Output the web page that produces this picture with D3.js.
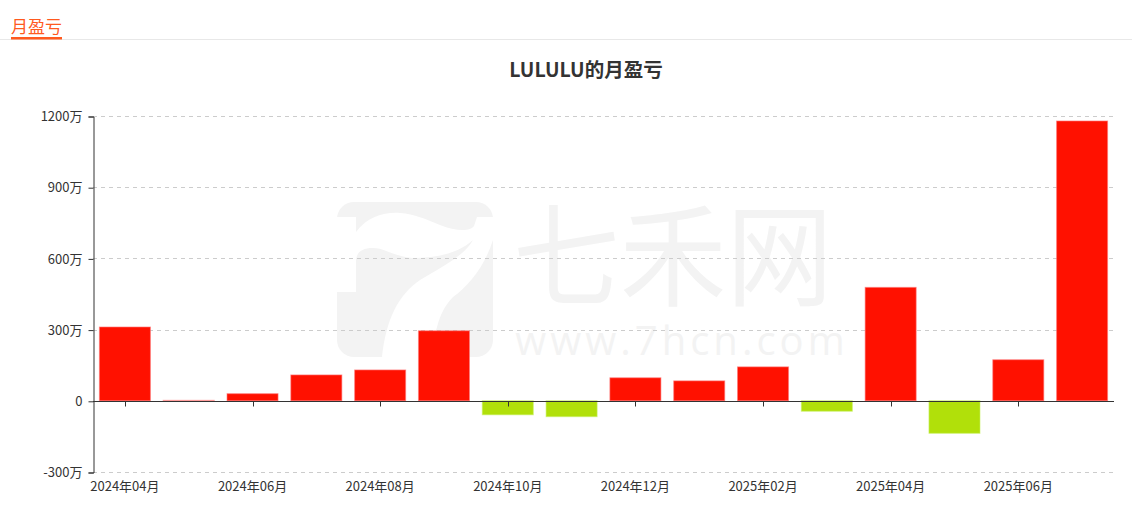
<!DOCTYPE html>
<html><head><meta charset="utf-8">
<script src="https://cdn.jsdelivr.net/npm/d3@7"></script>
<style>body{margin:0;background:#fff;}svg{display:block;font-family:"Noto Sans CJK SC","Noto Sans",sans-serif;}</style>
</head><body>
<svg id="c" width="1132" height="514"></svg>
<script>
const categories = ["2024年04月","2024年05月","2024年06月","2024年07月","2024年08月","2024年09月","2024年10月","2024年11月","2024年12月","2025年01月","2025年02月","2025年03月","2025年04月","2025年05月","2025年06月","2025年07月"];
const values = [311, 2, 30, 109, 130, 295, -59, -67, 97, 84, 143, -44, 478, -137, 173, 1179];
const yTicks = [-300, 0, 300, 600, 900, 1200];
const title = "LULULU的月盈亏";
const tabLabel = "月盈亏";

(function(){
const svg = d3.select("#c");
const pL = 93, pR = 1114, pT = 116, pB = 472;

// header
svg.append("line").attr("x1",0).attr("x2",1132).attr("y1",39.5).attr("y2",39.5).attr("stroke","#e8e8e8");
svg.append("text").attr("x",11).attr("y",33).attr("font-size",17).attr("fill","#ff5a1f").text(tabLabel);
svg.append("rect").attr("x",11).attr("y",37).attr("width",51).attr("height",2.5).attr("fill","#ff5a1f");

// watermark
const wm = svg.append("g");
const wc = "#f3f3f3";
wm.append("rect").attr("x",337).attr("y",202).attr("width",156).attr("height",155).attr("rx",17).attr("fill",wc);
wm.append("path").attr("fill","#fff").attr("d",
  "M337,217 L356,217 L356,232 C368,216 385,212 400,213 C415,214 425,219 440,225 C455,231 470,232 474,226 L477,217 L493,217 L493,240 " +
  "C485,265 470,285 453,297 C440,310 434,330 433,357 L382,357 C386,320 398,295 420,280 C445,265 465,255 473,240 " +
  "C460,252 440,258 413,258 C395,257 385,248 373,248 C362,248 356,252 356,262 L356,292 L337,292 Z");
wm.append("text").attr("x",673).attr("y",298).attr("text-anchor","middle").attr("font-size",112).attr("fill",wc)
  .attr("textLength",320).attr("lengthAdjust","spacingAndGlyphs").text("七禾网");
wm.append("text").attr("x",682).attr("y",355).attr("text-anchor","middle").attr("font-size",40).attr("fill",wc).attr("letter-spacing",4).attr("font-family","'Open Sans',sans-serif").text("www.7hcn.com");

svg.append("text").attr("x",586).attr("y",77).attr("text-anchor","middle").attr("font-size",19.5).attr("font-weight","bold").attr("fill","#333").text(title);

const x = d3.scaleBand().domain(categories).range([pL, pR]).paddingInner(0.2).paddingOuter(0.1);
const xc = d3.scaleBand().domain(categories).range([pL, pR]);
const y = d3.scaleLinear().domain([-300, 1200]).range([pB, pT]);

// grid
svg.append("g").selectAll("line").data(yTicks).join("line")
  .attr("x1",pL).attr("x2",pR).attr("y1",d=>Math.round(y(d))+0.5).attr("y2",d=>Math.round(y(d))+0.5)
  .attr("stroke","#ccc").attr("stroke-dasharray","4,4").attr("opacity",d=>d===0?0:1);

// y axis
const yAxis = d3.axisLeft(y).tickValues(yTicks).tickSize(5).tickPadding(6).tickFormat(d=>d===0?"0":d+"万");
const gy = svg.append("g").attr("transform",`translate(${pL+0.5},0.5)`).call(yAxis);
gy.select(".domain").attr("stroke","#333");
gy.selectAll(".tick line").attr("stroke","#333");
gy.selectAll("text").attr("font-size",13).attr("fill","#333").attr("font-family","'Noto Sans CJK SC',sans-serif");

// bars
svg.append("g").selectAll("rect").data(values).join("rect")
  .attr("x",(d,i)=>x(categories[i]))
  .attr("width",x.bandwidth())
  .attr("y",d=>y(Math.max(d,0)))
  .attr("height",d=>Math.max(Math.abs(y(d)-y(0)),0.8))
  .attr("fill",d=>d>=0?"#ff1100":"#b1e00a")
  .attr("fill-opacity",(d)=>Math.abs(d)<5?0.25:1)
  .attr("stroke",d=>d>=0?"rgba(255,120,120,0.6)":"rgba(200,240,100,0.6)")
  .attr("stroke-width",1);

// x axis line at zero
const zy = Math.round(y(0))+0.5;
svg.append("line").attr("x1",pL).attr("x2",pR).attr("y1",zy).attr("y2",zy).attr("stroke","#333");
const tickCats = categories.filter((d,i)=>i%2===0);
svg.append("g").selectAll("line").data(tickCats).join("line")
  .attr("x1",d=>Math.round(xc(d)+xc.bandwidth()/2)+0.5).attr("x2",d=>Math.round(xc(d)+xc.bandwidth()/2)+0.5)
  .attr("y1",zy).attr("y2",zy+5).attr("stroke","#333");
svg.append("g").selectAll("text").data(tickCats).join("text")
  .attr("x",d=>xc(d)+xc.bandwidth()/2).attr("y",491).attr("text-anchor","middle")
  .attr("font-size",13).attr("fill","#333").text(d=>d);
})();
</script>
</body></html>
